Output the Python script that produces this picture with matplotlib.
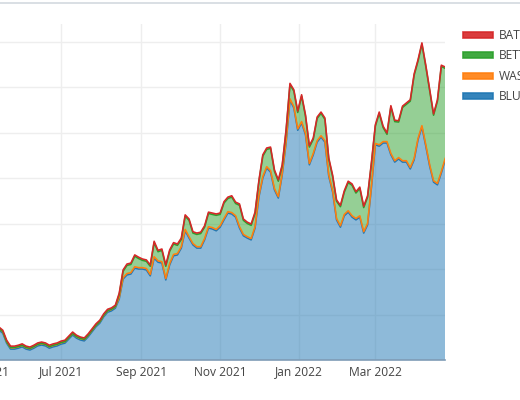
import numpy as np
import pandas as pd
import matplotlib
matplotlib.use("Agg")
import matplotlib.pyplot as plt
import matplotlib.dates as mdates
from matplotlib.patches import Patch
from matplotlib.lines import Line2D

plt.rcParams['font.family'] = ['Open Sans', 'DejaVu Sans']

# every 3 days, 2021-04-29 .. 2022-04-24
dates = pd.date_range('2021-04-29', periods=121, freq='3D')

blue = [8.6, 7.9, 7.7, 8.1, 7.5, 6.6, 5.9, 3.7, 2.4, 2.4, 2.6, 2.9, 2.4, 2.2, 2.6, 3.1, 3.3, 3.1, 2.6, 2.9,
        3.1, 3.5, 3.7, 4.6, 5.5, 4.8, 4.4, 4.2, 5.1, 6.2, 7.3, 8.1, 9.5, 10.5, 10.8, 11.4,
        13.4, 17.8, 18.7, 18.9, 20.2, 20.0, 20.0, 19.8, 18.5, 22.4, 21.5, 21.3, 17.6, 20.9, 22.9, 23.1, 24.6,
        28.4, 26.8, 25.3, 24.6, 24.6, 26.4, 29.0, 28.8, 28.4, 29.2, 30.8, 32.3, 32.1, 31.4, 29.0, 27.3, 26.8,
        26.4, 29.0, 35.8, 40.0, 42.2, 41.3, 37.4, 35.6, 40.7, 47.7, 57.1, 55.4, 50.5, 52.1, 49.5, 42.9, 45.1,
        47.9, 49.0, 47.9, 40.4, 36.9, 30.8, 29.2, 31.7, 32.5, 31.4, 30.8, 31.4, 27.9, 29.7, 38.0, 47.3, 47.0,
        47.7, 47.7, 45.1, 43.5, 44.2, 43.5, 43.5, 42.0, 44.0, 48.4, 51.2, 47.0, 42.6, 39.1, 38.5, 41.1, 44.0]

wash = [0.3, 0.3, 0.3, 0.3, 0.3, 0.3, 0.3, 0.3, 0.3, 0.3, 0.3, 0.3, 0.3, 0.3, 0.3, 0.3, 0.3, 0.3, 0.3, 0.3,
        0.3, 0.3, 0.3, 0.3, 0.3, 0.3, 0.3, 0.3, 0.3, 0.3, 0.3, 0.3, 0.3, 0.3, 0.3, 0.3, 0.3, 0.3, 0.3, 0.3,
        0.3, 0.3, 0.3, 0.3, 0.3, 0.3, 0.3, 0.3, 0.3, 0.3, 0.3, 0.3, 0.3, 0.3, 0.3, 0.3, 0.3, 0.3, 0.3, 0.3,
        0.3, 0.3, 0.3, 0.3, 0.3, 0.3, 0.3, 0.3, 0.3, 0.3, 0.3, 0.3, 0.3, 0.3, 0.3, 0.3, 0.3, 0.3, 0.3, 0.3,
        0.3, 0.3, 0.3, 0.3, 0.3, 0.3, 0.3, 0.3, 0.3, 0.3, 0.3, 0.3, 0.3, 0.3, 0.3, 0.3, 0.3, 0.3, 0.3, 0.3,
        0.3, 0.3, 0.3, 0.3, 0.3, 0.3, 0.3, 0.3, 0.3, 0.3, 0.3, 0.3, 0.3, 0.3, 0.3, 0.3, 0.3, 0.3, 0.3, 0.3,
        0.3]

beta = [0.05, 0.05, 0.05, 0.05, 0.05, 0.05, 0.05, 0.05, 0.05, 0.05, 0.05, 0.05, 0.05, 0.05, 0.05, 0.05,
        0.05, 0.05, 0.05, 0.05, 0.05, 0.05, 0.05, 0.05, 0.05, 0.05, 0.05, 0.05, 0.05, 0.05, 0.05, 0.05,
        0.05, 0.05, 0.05, 0.05,
        0.7, 1.4, 1.8, 1.8, 2.3, 2.0, 1.6, 1.6, 1.8, 3.1, 2.0, 2.5, 2.7, 2.7, 2.3, 1.8, 1.6, 2.9, 3.6, 2.3,
        2.7, 2.9, 2.5, 2.9, 2.9, 3.1, 2.5, 3.4, 2.9, 3.4, 2.7, 4.7, 3.1, 2.9, 2.9, 2.9, 3.1, 4.5, 3.8, 4.9,
        3.8, 3.4, 1.6, 2.3, 3.1, 3.4, 3.6, 5.6, 3.8, 3.6, 3.1, 4.9, 4.9, 4.7, 3.4, 3.1, 3.8, 4.2, 4.9, 6.2,
        6.7, 5.6, 6.0, 5.3, 5.8, 4.9, 3.8, 6.9, 3.1, 1.6, 10.2, 8.6, 7.8, 11.7, 12.4, 14.6, 18.3, 17.0, 17.9,
        17.2, 16.3, 14.4, 18.1, 23.1, 19.8]

bat = [0.3, 0.3, 0.3, 0.3, 0.3, 0.3, 0.3, 0.3, 0.3, 0.3, 0.3, 0.3, 0.3, 0.3, 0.3, 0.3, 0.3, 0.3, 0.3, 0.3,
       0.3, 0.3, 0.3, 0.3, 0.3, 0.3, 0.3, 0.3, 0.3, 0.3, 0.3, 0.3, 0.3, 0.3, 0.3, 0.3, 0.3, 0.3, 0.3, 0.3,
       0.3, 0.3, 0.3, 0.3, 0.3, 0.3, 0.3, 0.3, 0.3, 0.3, 0.3, 0.3, 0.3, 0.3, 0.3, 0.3, 0.3, 0.3, 0.3, 0.3,
       0.3, 0.3, 0.3, 0.3, 0.3, 0.3, 0.3, 0.3, 0.3, 0.3, 0.3, 0.3, 0.3, 0.3, 0.3, 0.3, 0.3, 0.3, 0.3, 0.3,
       0.3, 0.3, 0.3, 0.3, 0.3, 0.3, 0.3, 0.3, 0.3, 0.3, 0.3, 0.3, 0.3, 0.3, 0.3, 0.3, 0.3, 0.3, 0.3, 0.3,
       0.3, 0.3, 0.3, 0.3, 0.3, 0.3, 0.3, 0.3, 0.3, 0.3, 0.3, 0.3, 0.3, 0.3, 0.3, 0.3, 0.3, 0.3, 0.3, 0.3,
       0.3]

names = ['BLUE', 'WASTE', 'BETTER', 'BATTERY']
line_colors = ['#1f77b4', '#ff7f0e', '#2ca02c', '#d62728']

fig = plt.figure(figsize=(5.2, 4.0), dpi=100)
ax = fig.add_axes([-20.5 / 520, 0.10, 465.7 / 520, 0.84])

layers = np.vstack([blue, wash, beta, bat])
ax.stackplot(dates, layers, colors=line_colors, alpha=0.5, linewidth=0, zorder=2)
tops = np.cumsum(layers, axis=0)
for top, c in zip(tops, line_colors):
    ax.plot(dates, top, color=c, lw=1.15, zorder=3, solid_joinstyle='round')

ax.set_xlim(dates[0], dates[-1])
ax.set_ylim(0, 73.85)
ax.set_yticks(np.arange(0, 80, 10))
ax.xaxis.set_major_locator(mdates.MonthLocator(bymonth=[1, 3, 5, 7, 9, 11]))
ax.xaxis.set_major_formatter(mdates.DateFormatter('%b %Y'))
ax.grid(True, color='#eeeeee', lw=1, zorder=0)
ax.set_axisbelow(True)
ax.tick_params(length=0, labelsize=8.64, labelcolor='#444444', pad=4)
ax.tick_params(axis='y', labelleft=False)
for s in ['top', 'right', 'left']:
    ax.spines[s].set_visible(False)
ax.spines['bottom'].set_color('#7f9cb6')
ax.spines['bottom'].set_linewidth(1.2)
ax.spines['bottom'].set_zorder(4)

handles = [Patch(facecolor=c, edgecolor=c, alpha=0.9, lw=1.2) for c in line_colors]
fig.legend(handles[::-1], names[::-1], loc='upper left', bbox_to_anchor=(463 / 520, 1 - 29 / 400),
           frameon=False, fontsize=8.64, labelcolor='#444444', handlelength=2.5, handleheight=0.4,
           handletextpad=0.45, labelspacing=0.62, borderpad=0, borderaxespad=0)

fig.add_artist(Line2D([0, 1], [1 - 2.5 / 400, 1 - 2.5 / 400], transform=fig.transFigure,
                      color='#d3d9df', lw=1.2))

fig.savefig('out.png', dpi=100)
